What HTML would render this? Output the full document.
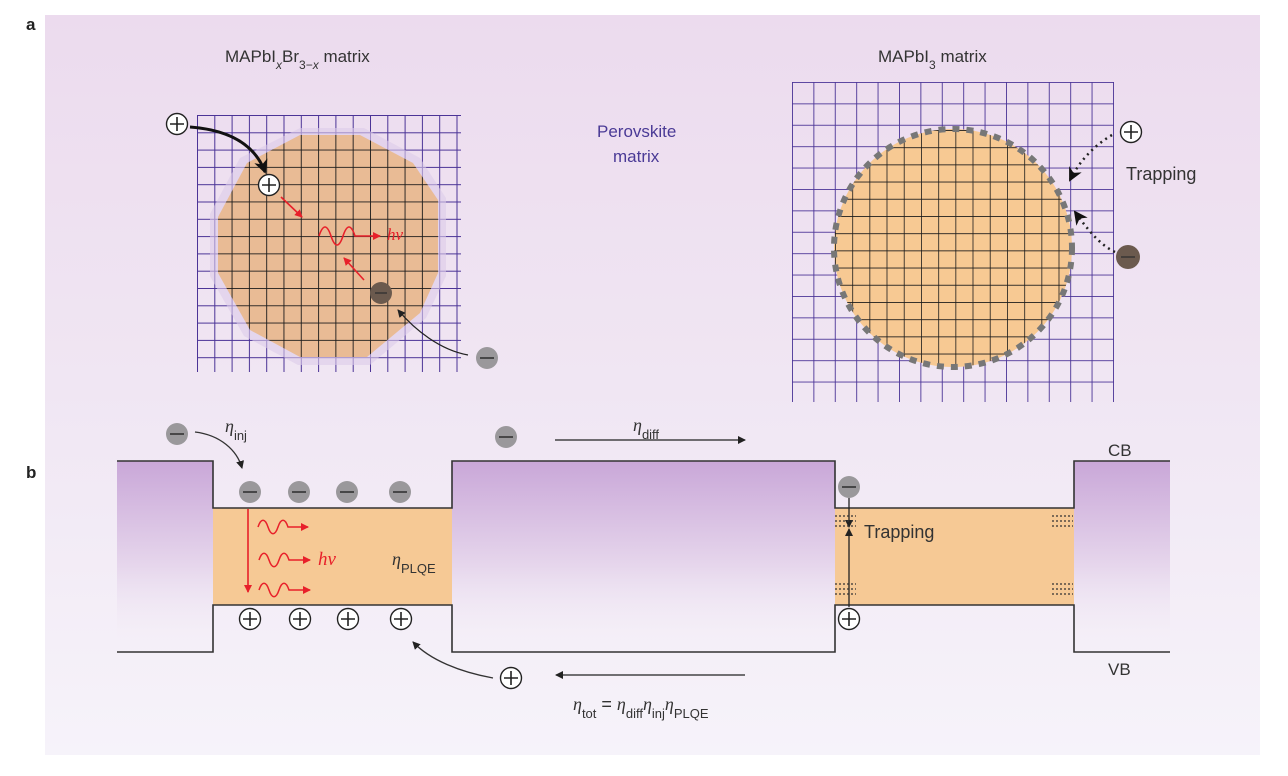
<!DOCTYPE html>
<html><head><meta charset="utf-8"><style>
html,body{margin:0;padding:0;background:#fff;}
svg{display:block;font-family:"Liberation Sans","DejaVu Sans",sans-serif;}
</style></head><body>
<svg width="1288" height="776" viewBox="0 0 1288 776" xmlns="http://www.w3.org/2000/svg">
<defs>
<linearGradient id="bg" x1="0" y1="0" x2="0" y2="1">
<stop offset="0" stop-color="#ecdbee"/><stop offset="0.5" stop-color="#f0e6f3"/><stop offset="1" stop-color="#f6f3fa"/>
</linearGradient>
<linearGradient id="bar" x1="0" y1="0" x2="0" y2="1">
<stop offset="0" stop-color="#c9a7d8"/><stop offset="0.55" stop-color="#e6d6ec"/><stop offset="1" stop-color="#f6f2f9" stop-opacity="0"/>
</linearGradient>
<pattern id="pgL" x="197" y="115" width="17.3" height="17.3" patternUnits="userSpaceOnUse">
<path d="M0 0V17.3M0 0H17.3" stroke="#4a3396" stroke-width="2" fill="none"/></pattern>
<pattern id="bgL" x="197" y="115" width="17.3" height="17.3" patternUnits="userSpaceOnUse">
<path d="M0 0V17.3M0 0H17.3" stroke="#1a1a1a" stroke-width="1.8" fill="none"/></pattern>
<pattern id="pgR" x="792" y="82" width="21.4" height="21.4" patternUnits="userSpaceOnUse">
<path d="M0 0V21.4M0 0H21.4" stroke="#4a3396" stroke-width="1.8" fill="none"/></pattern>
<pattern id="bgR" x="835" y="130" width="17.2" height="17.2" patternUnits="userSpaceOnUse">
<path d="M0 0V17.2M0 0H17.2" stroke="#1a1a1a" stroke-width="1.6" fill="none"/></pattern>
<clipPath id="octL"><polygon points="300,135 360,135 413,163 438,200 438,273 420,313 367,357 300,357 250,330 218,273 218,217 247,163"/></clipPath>
<clipPath id="cirR"><circle cx="953" cy="248" r="119"/></clipPath>
<marker id="ah" markerWidth="8" markerHeight="8" refX="7" refY="4" orient="auto" markerUnits="userSpaceOnUse"><path d="M0 0L8 4L0 8z" fill="#222"/></marker>
<marker id="ahr" markerWidth="8" markerHeight="8" refX="7" refY="4" orient="auto" markerUnits="userSpaceOnUse"><path d="M0 0L8 4L0 8z" fill="#e8202a"/></marker>
<marker id="ahb" markerWidth="14" markerHeight="14" refX="12" refY="7" orient="auto" markerUnits="userSpaceOnUse"><path d="M0 0L14 7L0 14L4 7z" fill="#111"/></marker>
<g id="minus"><circle r="11" fill="#9a989b"/><line x1="-7" y1="0" x2="7" y2="0" stroke="#333" stroke-width="1.6"/></g>
<g id="plus"><circle r="10.5" fill="#fff" stroke="#222" stroke-width="1.4"/><path d="M-7 0H7M0 -7V7" stroke="#222" stroke-width="1.6"/></g>
</defs>
<rect x="45" y="15" width="1215" height="740" fill="url(#bg)"/>
<text x="26" y="30" font-size="17" font-weight="bold" fill="#222">a</text>
<text x="26" y="478" font-size="17" font-weight="bold" fill="#222">b</text>

<text x="225" y="62" font-size="17" fill="#333">MAPbI<tspan baseline-shift="sub" font-size="12" font-style="italic">x</tspan>Br<tspan baseline-shift="sub" font-size="12">3−<tspan font-style="italic">x</tspan></tspan> matrix</text>
<rect x="197" y="115" width="264" height="257" fill="url(#pgL)"/>
<polygon points="300,128 364,128 420,158 446,198 446,276 426,318 370,365 298,365 244,336 210,276 210,214 240,158" fill="#dccbea" opacity="0.6"/>
<polygon points="300,135 360,135 413,163 438,200 438,273 420,313 367,357 300,357 250,330 218,273 218,217 247,163" fill="#e9bb95"/>
<rect x="197" y="115" width="264" height="257" fill="url(#bgL)" clip-path="url(#octL)"/>
<path d="M190 127 C230 130 255 145 265 172" stroke="#111" stroke-width="3" fill="none" marker-end="url(#ahb)"/>
<use href="#plus" x="177" y="124"/>
<use href="#plus" x="269" y="185"/>
<path d="M281 197 L302 217" stroke="#e8202a" stroke-width="1.6" marker-end="url(#ahr)"/>
<path d="M319 236 c4-12 8-12 12 0 s8 12 12 0 s8-12 12 0 H380" stroke="#e8202a" stroke-width="1.6" fill="none" marker-end="url(#ahr)"/>
<text x="387" y="240" font-size="17" font-style="italic" fill="#e8202a" font-family="Liberation Serif,serif">hν</text>
<path d="M364 280 L344 258" stroke="#e8202a" stroke-width="1.6" marker-end="url(#ahr)"/>
<circle cx="381" cy="293" r="11" fill="#6b5a4e"/><line x1="375" y1="293" x2="387" y2="293" stroke="#333" stroke-width="1.4"/>
<path d="M468 355 C440 350 415 330 398 310" stroke="#222" stroke-width="1.3" fill="none" marker-end="url(#ah)"/>
<use href="#minus" x="487" y="358"/>

<text x="597" y="137" font-size="17" fill="#4a3a96">Perovskite</text>
<text x="613" y="162" font-size="17" fill="#4a3a96">matrix</text>

<text x="878" y="62" font-size="17" fill="#333">MAPbI<tspan baseline-shift="sub" font-size="12">3</tspan> matrix</text>
<rect x="792" y="82" width="322" height="320" fill="url(#pgR)"/>
<circle cx="953" cy="248" r="119" fill="#f7c993"/>
<rect x="830" y="125" width="250" height="250" fill="url(#bgR)" clip-path="url(#cirR)"/>
<circle cx="953" cy="248" r="119" fill="none" stroke="#777" stroke-width="6" stroke-dasharray="7 7"/>
<path d="M1112 135 C1095 145 1080 160 1070 180" stroke="#222" stroke-width="2.5" stroke-dasharray="2 4" fill="none" marker-end="url(#ahb)"/>
<path d="M1115 252 C1100 245 1088 230 1075 212" stroke="#222" stroke-width="2.5" stroke-dasharray="2 4" fill="none" marker-end="url(#ahb)"/>
<use href="#plus" x="1131" y="132"/>
<circle cx="1128" cy="257" r="12" fill="#6b5a4e"/><line x1="1121" y1="257" x2="1135" y2="257" stroke="#333" stroke-width="1.4"/>
<text x="1126" y="180" font-size="18" fill="#333">Trapping</text>

<rect x="117" y="461" width="96" height="191" fill="url(#bar)"/>
<rect x="452" y="461" width="383" height="191" fill="url(#bar)"/>
<rect x="1074" y="461" width="96" height="191" fill="url(#bar)"/>
<rect x="213" y="508" width="239" height="97" fill="#f6c995"/>
<rect x="835" y="508" width="239" height="97" fill="#f6c995"/>
<path d="M117 461H213V508H452V461H835V508H1074V461H1170" stroke="#333" stroke-width="1.6" fill="none"/>
<path d="M117 652H213V605H452V652H835V605H1074V652H1170" stroke="#333" stroke-width="1.6" fill="none"/>
<text x="1108" y="456" font-size="17" fill="#333">CB</text>
<text x="1108" y="675" font-size="17" fill="#333">VB</text>

<use href="#minus" x="177" y="434"/>
<path d="M195 432 C220 435 237 450 242 468" stroke="#333" stroke-width="1.3" fill="none" marker-end="url(#ah)"/>
<text x="225" y="432" font-size="18" font-style="italic" fill="#333" font-family="Liberation Serif,serif">η<tspan font-style="normal" font-family="Liberation Sans,sans-serif" font-size="13" baseline-shift="sub">inj</tspan></text>
<use href="#minus" x="250" y="492"/><use href="#minus" x="299" y="492"/><use href="#minus" x="347" y="492"/><use href="#minus" x="400" y="492"/>
<use href="#plus" x="250" y="619"/><use href="#plus" x="300" y="619"/><use href="#plus" x="348" y="619"/><use href="#plus" x="401" y="619"/>
<path d="M248 509V592" stroke="#e8202a" stroke-width="1.6" marker-end="url(#ahr)"/>
<g stroke="#e8202a" stroke-width="1.5" fill="none">
<path d="M258 527c3-9 7-9 10 0s7 9 10 0s7-9 10 0H308" marker-end="url(#ahr)"/>
<path d="M259 560c3-9 7-9 10 0s7 9 10 0s7-9 10 0H310" marker-end="url(#ahr)"/>
<path d="M259 590c3-9 7-9 10 0s7 9 10 0s7-9 10 0H310" marker-end="url(#ahr)"/>
</g>
<text x="318" y="565" font-size="19" font-style="italic" fill="#e8202a" font-family="Liberation Serif,serif">hν</text>
<text x="392" y="565" font-size="18" font-style="italic" fill="#333" font-family="Liberation Serif,serif">η<tspan font-style="normal" font-family="Liberation Sans,sans-serif" font-size="13" baseline-shift="sub">PLQE</tspan></text>

<use href="#minus" x="506" y="437"/>
<path d="M555 440H745" stroke="#222" stroke-width="1.3" marker-end="url(#ah)"/>
<text x="633" y="431" font-size="18" font-style="italic" fill="#333" font-family="Liberation Serif,serif">η<tspan font-style="normal" font-family="Liberation Sans,sans-serif" font-size="13" baseline-shift="sub">diff</tspan></text>
<use href="#plus" x="511" y="678"/>
<path d="M745 675H556" stroke="#222" stroke-width="1.3" marker-end="url(#ah)"/>
<path d="M493 678 C460 672 430 660 413 642" stroke="#333" stroke-width="1.3" fill="none" marker-end="url(#ah)"/>
<text x="573" y="710" font-size="18" font-style="italic" fill="#333" font-family="Liberation Serif,serif">η<tspan font-style="normal" font-family="Liberation Sans,sans-serif" font-size="13" baseline-shift="sub">tot</tspan><tspan font-style="normal" font-family="Liberation Sans,sans-serif"> = </tspan>η<tspan font-style="normal" font-family="Liberation Sans,sans-serif" font-size="13" baseline-shift="sub">diff</tspan>η<tspan font-style="normal" font-family="Liberation Sans,sans-serif" font-size="13" baseline-shift="sub">inj</tspan>η<tspan font-style="normal" font-family="Liberation Sans,sans-serif" font-size="13" baseline-shift="sub">PLQE</tspan></text>

<use href="#minus" x="849" y="487"/>
<use href="#plus" x="849" y="619"/>
<path d="M849 498V527" stroke="#222" stroke-width="1.3" marker-end="url(#ah)"/>
<path d="M849 607V529" stroke="#222" stroke-width="1.3" marker-end="url(#ah)"/>
<g stroke="#333" stroke-width="1.2" stroke-dasharray="2 2">
<path d="M835 516H856M835 521H856M835 526H856M835 584H856M835 589H856M835 594H856"/>
<path d="M1052 516H1073M1052 521H1073M1052 526H1073M1052 584H1073M1052 589H1073M1052 594H1073"/>
</g>
<text x="864" y="538" font-size="18" fill="#333">Trapping</text>
</svg>
</body></html>
